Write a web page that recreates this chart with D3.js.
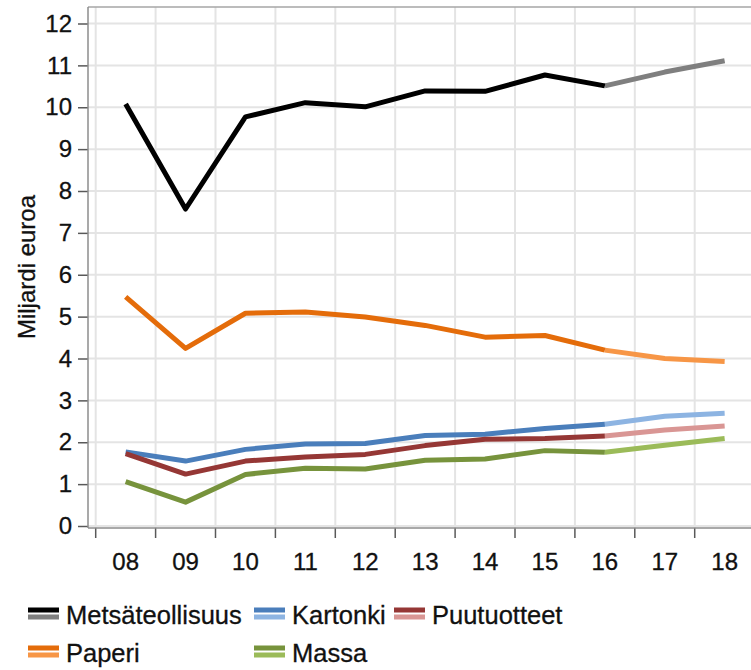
<!DOCTYPE html>
<html>
<head>
<meta charset="utf-8">
<script src="https://cdn.jsdelivr.net/npm/d3@7"></script>
<style>
    html, body { margin: 0; padding: 0; background: #fff; }
    svg { display: block; font-family: "Liberation Sans", Arial, sans-serif; }
</style>
</head>
<body>
<div id="draw"></div>
<script>
// years on the x axis (2008 - 2018), 16 -> 18 is the forecast part
var years = ['08', '09', '10', '11', '12', '13', '14', '15', '16', '17', '18'];
var forecastFrom = 8; // index of '16'
var yTicks = [0, 1, 2, 3, 4, 5, 6, 7, 8, 9, 10, 11, 12];

var metsateollisuus = [10.08, 7.57, 9.77, 10.11, 10.01, 10.39, 10.38, 10.77, 10.51, 10.84, 11.11];
var paperi = [5.47, 4.24, 5.08, 5.11, 4.99, 4.79, 4.51, 4.55, 4.20, 4.00, 3.93];
var kartonki = [1.77, 1.55, 1.83, 1.96, 1.97, 2.16, 2.19, 2.33, 2.43, 2.62, 2.69];
var puutuotteet = [1.73, 1.24, 1.55, 1.65, 1.71, 1.92, 2.07, 2.09, 2.15, 2.29, 2.39];
var massa = [1.06, 0.57, 1.23, 1.38, 1.36, 1.57, 1.60, 1.80, 1.76, 1.93, 2.09];

var seriesNames = ['Metsäteollisuus', 'Kartonki', 'Puutuotteet', 'Paperi', 'Massa'];
var seriesValues = [metsateollisuus, kartonki, puutuotteet, paperi, massa];
var darkColors = ['#000000', '#4a7ebb', '#953735', '#e46c0a', '#77933c'];
var lightColors = ['#7f7f7f', '#8db4e2', '#d99694', '#f79646', '#9bbb59'];

(function () {
    "use strict";

    var width = 751,
        height = 670,
        plot = {left: 88, right: 762, top: 7, bottom: 528},
        textColor = '#111';

    var svg = d3.select('#draw').append('svg')
        .attr('width', width)
        .attr('height', height);

    // x: each year gets a band, ticks sit on the band edges
    var x = d3.scaleBand()
        .domain(years)
        .range([95.7, 95.7 + 59.9 * years.length])
        .paddingInner(0)
        .paddingOuter(0);
    var xc = function (i) { return x(years[i]) + x.bandwidth() / 2; };
    var edges = years.map(function (d) { return x(d); });

    var y = d3.scaleLinear()
        .domain([0, 12])
        .range([526, 23.5]);

    // grid
    var grid = svg.append('g');
    grid.selectAll('line.h')
        .data(yTicks)
        .enter().append('line')
        .attr('x1', plot.left).attr('x2', plot.right)
        .attr('y1', function (d) { return y(d); })
        .attr('y2', function (d) { return y(d); })
        .attr('stroke', '#e4e4e4')
        .attr('stroke-width', 2);
    grid.selectAll('line.v')
        .data(edges)
        .enter().append('line')
        .attr('x1', function (d) { return d; })
        .attr('x2', function (d) { return d; })
        .attr('y1', plot.top).attr('y2', plot.bottom)
        .attr('stroke', '#e4e4e4')
        .attr('stroke-width', 2);

    // top border
    svg.append('line')
        .attr('x1', plot.left).attr('x2', plot.right)
        .attr('y1', plot.top).attr('y2', plot.top)
        .attr('stroke', '#a6a6a6').attr('stroke-width', 1.5);

    // y axis
    var yAxis = svg.append('g')
        .attr('transform', 'translate(' + plot.left + ',0)')
        .call(d3.axisLeft(y).tickValues(yTicks).tickSize(10).tickPadding(6).tickSizeOuter(0));
    yAxis.select('.domain').remove();
    svg.append('line')
        .attr('x1', plot.left).attr('x2', plot.left)
        .attr('y1', plot.top).attr('y2', plot.bottom)
        .attr('stroke', '#8c8c8c').attr('stroke-width', 1.5);

    // x axis: tick marks on band edges, labels centred in bands
    var xAxis = svg.append('g')
        .attr('transform', 'translate(0,' + plot.bottom + ')')
        .call(d3.axisBottom(x).tickSize(0).tickPadding(25));
    xAxis.select('.domain').remove();
    svg.append('g').selectAll('line')
        .data(edges)
        .enter().append('line')
        .attr('x1', function (d) { return d; })
        .attr('x2', function (d) { return d; })
        .attr('y1', plot.bottom).attr('y2', plot.bottom + 10)
        .attr('stroke', '#595959').attr('stroke-width', 1.5);
    svg.append('line')
        .attr('x1', plot.left).attr('x2', plot.right)
        .attr('y1', plot.bottom).attr('y2', plot.bottom)
        .attr('stroke', '#8c8c8c').attr('stroke-width', 1.5);

    [yAxis, xAxis].forEach(function (ax) {
        ax.selectAll('text')
            .attr('font-size', 24)
            .attr('fill', textColor)
            .attr('stroke', textColor)
            .attr('stroke-width', 0.3)
            .attr('font-family', '"Liberation Sans", Arial, sans-serif');
        ax.selectAll('.tick line').attr('stroke', '#595959').attr('stroke-width', 1.5);
    });
    xAxis.selectAll('text').attr('dy', '0.71em');

    // y title
    svg.append('text')
        .attr('transform', 'translate(35,267) rotate(-90)')
        .attr('text-anchor', 'middle')
        .attr('font-size', 24)
        .attr('fill', textColor)
        .attr('stroke', textColor)
        .attr('stroke-width', 0.3)
        .text('Miljardi euroa');

    // lines: actual part dark, forecast part light
    var line = d3.line()
        .x(function (d) { return xc(d.i); })
        .y(function (d) { return y(d.v); });

    seriesValues.forEach(function (vals, k) {
        var pts = vals.map(function (v, i) { return {i: i, v: v}; });
        svg.append('path')
            .datum(pts.slice(forecastFrom))
            .attr('d', line)
            .attr('fill', 'none')
            .attr('stroke', lightColors[k])
            .attr('stroke-width', 5)
            .attr('stroke-linejoin', 'round');
        svg.append('path')
            .datum(pts.slice(0, forecastFrom + 1))
            .attr('d', line)
            .attr('fill', 'none')
            .attr('stroke', darkColors[k])
            .attr('stroke-width', 5)
            .attr('stroke-linejoin', 'round');
    });

    // legend, two rows
    var legendPos = [[28, 0], [254, 0], [394, 0], [28, 1], [254, 1]];
    var legend = svg.append('g').attr('transform', 'translate(0,613)');
    seriesNames.forEach(function (name, k) {
        var g = legend.append('g')
            .attr('transform', 'translate(' + legendPos[k][0] + ',' + (legendPos[k][1] * 38) + ')');
        g.append('rect')
            .attr('x', 0).attr('y', -5.5)
            .attr('width', 31).attr('height', 5)
            .attr('fill', darkColors[k]);
        g.append('rect')
            .attr('x', 0).attr('y', 1.5)
            .attr('width', 31).attr('height', 5)
            .attr('fill', lightColors[k]);
        g.append('text')
            .attr('x', 38)
            .attr('y', 11)
            .attr('font-size', 25.5)
            .attr('fill', textColor)
            .attr('stroke', textColor)
            .attr('stroke-width', 0.3)
            .text(name);
    });
}());
</script>
</body>
</html>
